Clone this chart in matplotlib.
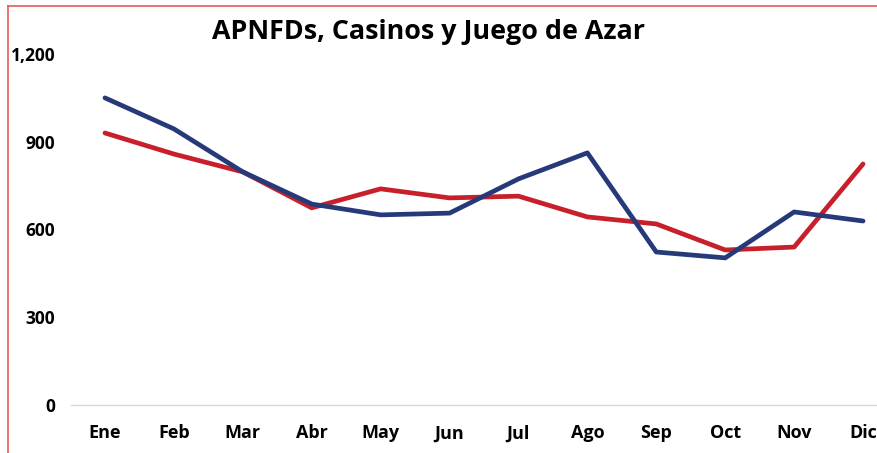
import matplotlib.pyplot as plt
from matplotlib.lines import Line2D

plt.rcParams['font.family'] = ['Open Sans', 'DejaVu Sans']

meses = ["Ene", "Feb", "Mar", "Abr", "May", "Jun", "Jul", "Ago", "Sep", "Oct", "Nov", "Dic"]
serie_azul = [1050, 944, 797, 687, 650, 656, 773, 862, 523, 503, 660, 629]
serie_roja = [930, 858, 797, 674, 739, 708, 714, 643, 619, 530, 540, 824]
yticks = [0, 300, 600, 900, 1200]

fig = plt.figure(figsize=(8.77, 4.53), dpi=100)
ax = fig.add_axes([70.5 / 877, 1 - 405 / 453, 827 / 877, 351 / 453])

x = range(len(meses))
ax.plot(x, serie_roja, color="#C8202A", linewidth=3.4, solid_capstyle="round", zorder=3)
ax.plot(x, serie_azul, color="#263A7A", linewidth=3.4, solid_capstyle="round", zorder=4)

ax.set_xlim(-0.5, len(meses) - 0.5)
ax.set_ylim(0, 1200)
ax.set_xticks(list(x))
ax.set_xticklabels(meses, fontsize=13, fontweight="bold")
ax.set_yticks(yticks)
ax.set_yticklabels([f"{v:,}" for v in yticks], fontsize=12.5, fontweight="bold")
ax.tick_params(axis="both", length=0)
ax.tick_params(axis="x", pad=14)
ax.tick_params(axis="y", pad=11)

for s in ["top", "right", "left"]:
    ax.spines[s].set_visible(False)
ax.spines["bottom"].set_color("#D9D9D9")
ax.spines["bottom"].set_linewidth(1)
ax.spines["bottom"].set_clip_on(False)

fig.text(428 / 877, 1 - 32 / 453, "APNFDs, Casinos y Juego de Azar",
         ha="center", va="center", fontsize=19.4, fontweight="bold")

# thin red frame along the top and left edges
fig.add_artist(Line2D([8 / 877, 8 / 877], [0, 1 - 6 / 453], color="#E8595C", linewidth=1.2))
fig.add_artist(Line2D([8 / 877, 1], [1 - 6 / 453, 1 - 6 / 453], color="#E8595C", linewidth=1.2))

fig.savefig("out.png", dpi=100)
